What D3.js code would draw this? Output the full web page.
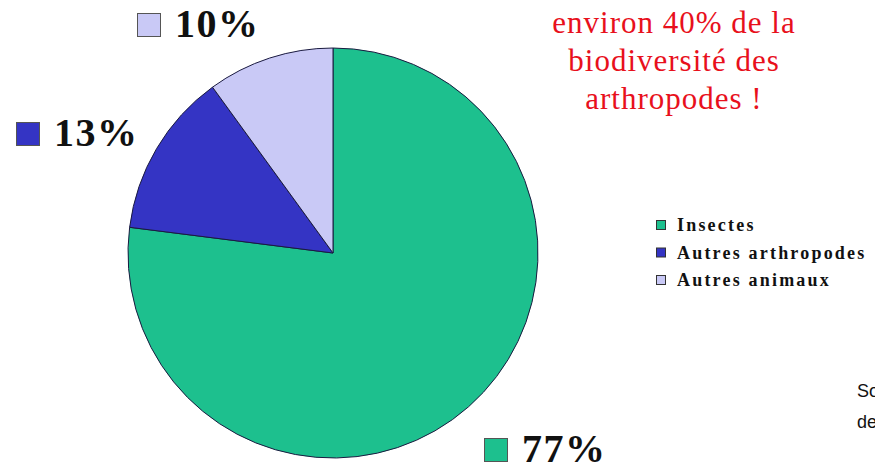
<!DOCTYPE html>
<html>
<head>
<meta charset="utf-8">
<script src="https://cdn.jsdelivr.net/npm/d3@7"></script>
<style>
  body { margin: 0; background: #fff; overflow: hidden; }
  svg { display: block; }
</style>
</head>
<body>
<script>
let categories = ['Insectes', 'Autres arthropodes', 'Autres animaux']
let values = [77, 13, 10]
let colors = ['#1dc08e', '#3434c4', '#c9c9f6']
let pctLabels = ['77%', '13%', '10%']
let noteLines = ['environ 40% de la', 'biodiversité des', 'arthropodes !']
let sourceLines = ['Source', 'de']

let width = 875
let height = 467
let cx = 333, cy = 253, radius = 205

let svg = d3.select('body')
    .append('svg')
    .attr('width', width)
    .attr('height', height)

let pie = d3.pie().sort(null).value(d => d)
let arc = d3.arc().innerRadius(0).outerRadius(radius)

let slices = svg.append('g')
    .attr('transform', 'translate(' + cx + ',' + cy + ')')

slices.selectAll('path')
    .data(pie(values))
    .enter()
    .append('path')
    .attr('d', arc)
    .attr('fill', (d, i) => colors[i])
    .attr('stroke', '#1a1a40')
    .attr('stroke-width', 1)

// percentage labels with small colour boxes
let labelPos = [
    { x: 484, y: 462 },
    { x: 16, y: 146 },
    { x: 137, y: 37 }
]

let labels = svg.selectAll('g.pct')
    .data(pctLabels)
    .enter()
    .append('g')
    .attr('class', 'pct')
    .attr('transform', (d, i) => 'translate(' + labelPos[i].x + ',' + labelPos[i].y + ')')

labels.append('rect')
    .attr('x', 0.5)
    .attr('y', -23.5)
    .attr('width', 23)
    .attr('height', 23)
    .attr('fill', (d, i) => colors[i])
    .attr('stroke', '#555')
    .attr('stroke-width', 1)

labels.append('text')
    .attr('x', 38)
    .attr('y', 0)
    .attr('font-family', 'Liberation Serif, Times New Roman, serif')
    .attr('font-weight', 'bold')
    .attr('font-size', 40)
    .attr('letter-spacing', 1.5)
    .attr('fill', '#111')
    .text(d => d)

// red note
svg.append('g')
    .selectAll('text')
    .data(noteLines)
    .enter()
    .append('text')
    .attr('x', 674)
    .attr('y', (d, i) => 33 + i * 38)
    .attr('text-anchor', 'middle')
    .attr('font-family', 'Liberation Serif, Times New Roman, serif')
    .attr('font-size', 31)
    .attr('letter-spacing', 1)
    .attr('fill', '#e8101c')
    .text(d => d)

// legend
let legend = svg.append('g')
    .attr('transform', 'translate(656,231)')

let rows = legend.selectAll('g')
    .data(categories)
    .enter()
    .append('g')
    .attr('transform', (d, i) => 'translate(0,' + (i * 27.5) + ')')

rows.append('rect')
    .attr('x', 0.5)
    .attr('y', -10.5)
    .attr('width', 9)
    .attr('height', 9)
    .attr('fill', (d, i) => colors[i])
    .attr('stroke', '#333')
    .attr('stroke-width', 1)

rows.append('text')
    .attr('x', 21)
    .attr('y', 0)
    .attr('font-family', 'Liberation Serif, Times New Roman, serif')
    .attr('font-weight', 'bold')
    .attr('font-size', 18)
    .attr('letter-spacing', 2.2)
    .attr('fill', '#111')
    .text(d => d)

// cut-off source note
svg.append('g')
    .selectAll('text')
    .data(sourceLines)
    .enter()
    .append('text')
    .attr('x', 857)
    .attr('y', (d, i) => 397 + i * 31)
    .attr('font-family', 'Liberation Sans, Arial, sans-serif')
    .attr('font-size', 18)
    .attr('fill', '#111')
    .text(d => d)
</script>
</body>
</html>
